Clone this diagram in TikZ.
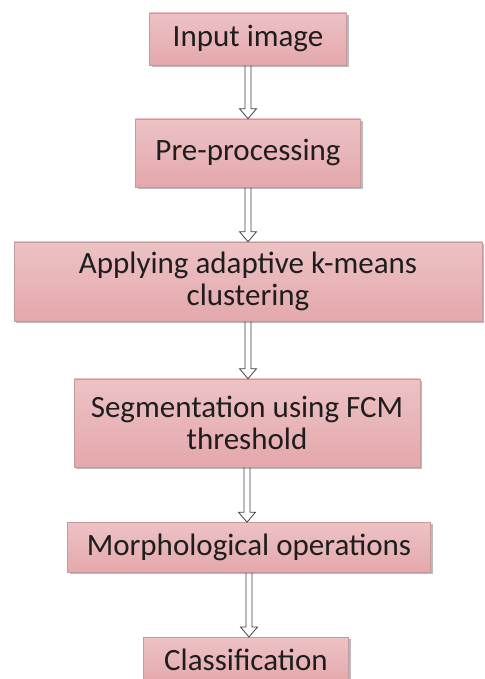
\documentclass[tikz,border=0pt]{standalone}
\usepackage{fontspec}
\setmainfont{Carlito}
\usepackage{tikz}
\usetikzlibrary{calc,shadows}

\definecolor{boxtop}{HTML}{EDC2C5}
\definecolor{boxmid}{HTML}{FAEDEE}
\definecolor{boxbot}{HTML}{E4A8AC}
\definecolor{boxedge}{HTML}{C49A9C}
\definecolor{inkgray}{HTML}{1E1E1E}

\begin{document}
\begin{tikzpicture}[x=1pt,y=1pt,
	stepbox/.style={draw=boxedge,line width=0.6pt,top color=boxtop,middle color=boxmid,bottom color=boxbot,
		drop shadow={shadow xshift=2pt,shadow yshift=-2pt,fill=black!45,opacity=0.6},
		align=center,inner sep=0pt,font=\fontsize{31}{32}\selectfont,text=inkgray},
	hollow/.style={draw=black!75,line width=0.8pt,
		to path={let \p1=(\tikztostart), \p2=(\tikztotarget) in
			(\x1-3pt,\y1) -- (\x1-3pt,\y2+10pt) -- (\x1-8.5pt,\y2+10pt) -- (\x1,\y2)
			-- (\x1+8.5pt,\y2+10pt) -- (\x1+3pt,\y2+10pt) -- (\x1+3pt,\y1)}}]
	\useasboundingbox (0,0) rectangle (484,679);

	\node[stepbox,minimum width=197,minimum height=52] (input) at (248,640) {Input image};
	\node[stepbox,minimum width=225,minimum height=68] (pre) at (248,526) {Pre-processing};
	\node[stepbox,minimum width=468,minimum height=79] (kmeans) at (248,397.5) {Applying adaptive k-means\\clustering};
	\node[stepbox,minimum width=346,minimum height=88] (seg) at (247,256) {Segmentation using FCM\\threshold};
	\node[stepbox,minimum width=363,minimum height=50] (morph) at (249,131.5) {Morphological operations};
	\node[stepbox,minimum width=205,minimum height=46,anchor=north] (class) at (246,42) {Classification};

	\draw[hollow] (input.south) to (pre.north);
	\draw[hollow] (pre.south) to (kmeans.north);
	\draw[hollow] (kmeans.south) to (seg.north);
	\draw[hollow] (seg.south) to (morph.north);
	\draw[hollow] (morph.south) to (class.north);
\end{tikzpicture}
\end{document}
